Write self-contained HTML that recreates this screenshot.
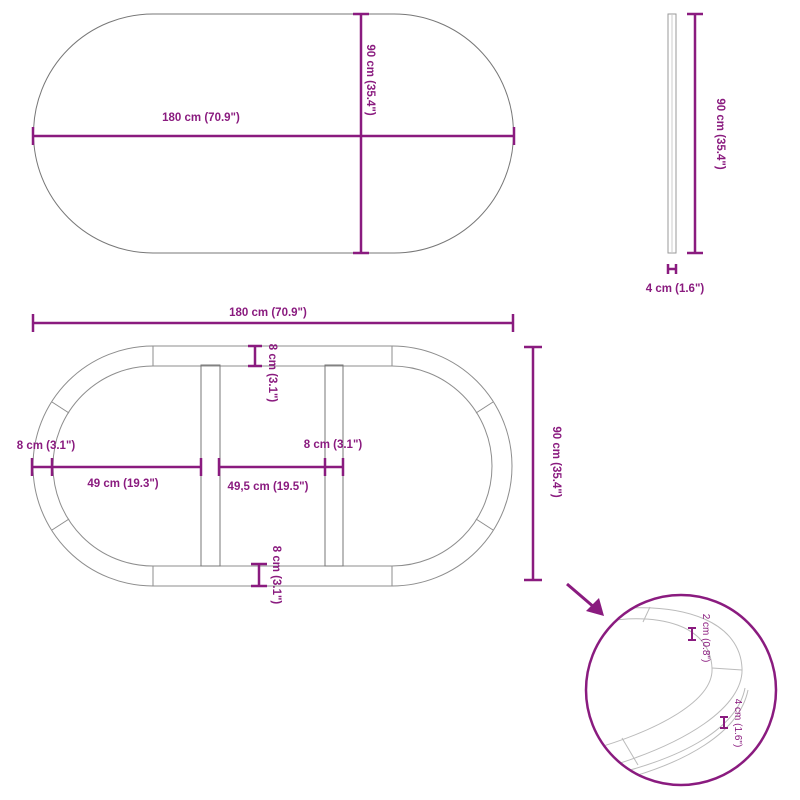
<!DOCTYPE html>
<html><head><style>
html,body{margin:0;padding:0;background:#fff;}
svg{display:block;}
text{font-family:"Liberation Sans",sans-serif;font-weight:bold;font-size:11.5px;fill:#8a1b7f;}
</style></head><body>
<svg width="800" height="800" viewBox="0 0 800 800" xmlns="http://www.w3.org/2000/svg">
<defs><clipPath id="c"><circle cx="681" cy="690" r="94"/></clipPath></defs>
<g fill="none" stroke="#8d8d8d" stroke-width="1">
<path d="M153 14 H394 A119.5 119.5 0 0 1 394 253 H153 A119.5 119.5 0 0 1 153 14 Z" stroke="#777"/>
<rect x="668" y="14" width="8" height="239" stroke="#999"/>
<line x1="672" y1="14" x2="672" y2="253" stroke="#ccc"/>
<path d="M153 346 H392 A120 120 0 0 1 392 586 H153 A120 120 0 0 1 153 346 Z"/>
<path d="M153 366 H392 A100 100 0 0 1 392 566 H153 A100 100 0 0 1 153 366 Z"/>
<line x1="153" y1="346" x2="153" y2="366"/><line x1="392" y1="346" x2="392" y2="366"/>
<line x1="153" y1="566" x2="153" y2="586"/><line x1="392" y1="566" x2="392" y2="586"/>
<line x1="52" y1="402" x2="69" y2="413"/><line x1="52" y1="530" x2="69" y2="519"/>
<line x1="493" y1="402" x2="476" y2="413"/><line x1="493" y1="530" x2="476" y2="519"/>
<rect x="201" y="365" width="19" height="201" stroke="#777"/>
<rect x="325" y="365" width="18" height="201" stroke="#777"/>
</g>
<g fill="none" stroke="#bbb" stroke-width="1" clip-path="url(#c)">
<path d="M600 622 C660 612 710 625 712 668 C714 700 660 730 590 750"/>
<path d="M605 610 C690 600 740 625 742 668 C744 705 690 745 590 772"/>
<path d="M600 785 C690 765 740 730 748 690"/>
<path d="M598 778 C690 758 738 725 745 688"/>
<line x1="650" y1="607" x2="643" y2="622"/><line x1="712" y1="668" x2="742" y2="670"/>
<line x1="622" y1="738" x2="638" y2="765"/>
</g>
<g stroke="#8a1b7f" stroke-width="2.5" fill="none">
<line x1="33" y1="136" x2="514" y2="136"/><line x1="33" y1="127" x2="33" y2="145"/><line x1="514" y1="127" x2="514" y2="145"/>
<line x1="361" y1="14" x2="361" y2="253"/><line x1="353" y1="14" x2="369" y2="14"/><line x1="353" y1="253" x2="369" y2="253"/>
<line x1="695" y1="14" x2="695" y2="253"/><line x1="687" y1="14" x2="703" y2="14"/><line x1="687" y1="253" x2="703" y2="253"/>
<line x1="668" y1="269" x2="676" y2="269"/><line x1="668" y1="264" x2="668" y2="274"/><line x1="676" y1="264" x2="676" y2="274"/>
<line x1="33" y1="323" x2="513" y2="323"/><line x1="33" y1="314" x2="33" y2="332"/><line x1="513" y1="314" x2="513" y2="332"/>
<line x1="533" y1="347" x2="533" y2="580"/><line x1="524" y1="347" x2="542" y2="347"/><line x1="524" y1="580" x2="542" y2="580"/>
<line x1="32" y1="467" x2="201" y2="467"/><line x1="32" y1="458" x2="32" y2="476"/><line x1="52" y1="458" x2="52" y2="476"/><line x1="201" y1="458" x2="201" y2="476"/>
<line x1="219" y1="467" x2="343" y2="467"/><line x1="219" y1="458" x2="219" y2="476"/><line x1="325" y1="458" x2="325" y2="476"/><line x1="343" y1="458" x2="343" y2="476"/>
<line x1="255" y1="346" x2="255" y2="366"/><line x1="248" y1="346" x2="262" y2="346"/><line x1="248" y1="366" x2="262" y2="366"/>
<line x1="259" y1="564" x2="259" y2="586"/><line x1="251" y1="564" x2="267" y2="564"/><line x1="251" y1="586" x2="267" y2="586"/>
<circle cx="681" cy="690" r="95"/>
<line x1="567" y1="584" x2="595" y2="608" stroke-width="3"/>
<line x1="692" y1="628" x2="692" y2="640" stroke-width="2"/><line x1="688" y1="628" x2="696" y2="628" stroke-width="2"/><line x1="688" y1="640" x2="696" y2="640" stroke-width="2"/>
<line x1="724" y1="717" x2="724" y2="728" stroke-width="2"/><line x1="720" y1="717" x2="728" y2="717" stroke-width="2"/><line x1="720" y1="728" x2="728" y2="728" stroke-width="2"/>
</g>
<polygon points="604,616 586,611 599,598" fill="#8a1b7f"/>
<text x="201" y="121" text-anchor="middle">180 cm (70.9")</text>
<text transform="translate(367,80) rotate(90)" text-anchor="middle">90 cm (35.4")</text>
<text transform="translate(717,134) rotate(90)" text-anchor="middle">90 cm (35.4")</text>
<text x="675" y="292" text-anchor="middle">4 cm (1.6")</text>
<text x="268" y="316" text-anchor="middle">180 cm (70.9")</text>
<text transform="translate(553,462) rotate(90)" text-anchor="middle">90 cm (35.4")</text>
<text x="46" y="449" text-anchor="middle">8 cm (3.1")</text>
<text x="333" y="448" text-anchor="middle">8 cm (3.1")</text>
<text x="123" y="487" text-anchor="middle">49 cm (19.3")</text>
<text x="268" y="490" text-anchor="middle">49,5 cm (19.5")</text>
<text transform="translate(269,373) rotate(90)" text-anchor="middle">8 cm (3.1")</text>
<text transform="translate(273,575) rotate(90)" text-anchor="middle">8 cm (3.1")</text>
<text transform="translate(703,638) rotate(90)" text-anchor="middle" style="font-weight:normal;font-size:10px">2 cm (0.8")</text>
<text transform="translate(735,723) rotate(90)" text-anchor="middle" style="font-weight:normal;font-size:10px">4 cm (1.6")</text>
</svg>
</body></html>
